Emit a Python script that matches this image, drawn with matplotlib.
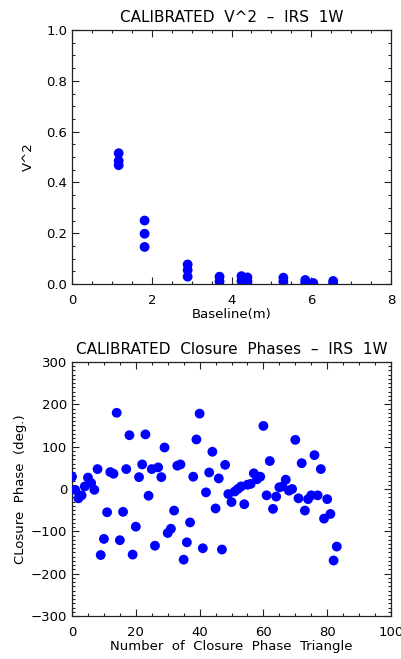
import numpy as np
import matplotlib
matplotlib.use("Agg")
import matplotlib.pyplot as plt
from matplotlib.ticker import MultipleLocator

# squared visibilities vs baseline
baseline = [1.17, 1.17, 1.17, 1.82, 1.82, 1.82, 2.90, 2.90, 2.90,
            3.70, 3.70, 4.25, 4.25, 4.40, 4.40, 5.30, 5.30,
            5.85, 5.85, 6.05, 6.55, 6.55]
v2 = [0.515, 0.485, 0.468, 0.250, 0.198, 0.146, 0.077, 0.055, 0.029,
      0.029, 0.010, 0.031, 0.012, 0.026, 0.010, 0.025, 0.010,
      0.016, 0.005, 0.004, 0.012, 0.004]

# closure phases, one per triangle index 0..83
cphase = [29, -2, -22, -15, 6, 27, 14, -2, 47, -156,
          -118, -55, 40, 36, 180, -121, -54, 47, 127, -155,
          -89, 28, 58, 129, -16, 47, -134, 51, 28, 98,
          -104, -94, -51, 55, 58, -167, -126, -79, 29, 117,
          178, -140, -8, 39, 88, -46, 25, -143, 57, -12,
          -31, -6, 0, 6, -36, 10, 12, 37, 23, 29,
          149, -15, 66, -47, -18, 4, 6, 22, -4, 0,
          116, -22, 61, -51, -24, -15, 80, -15, 47, -70,
          -24, -59, -169, -136]
triangle = np.arange(len(cphase))

plt.rcParams["font.family"] = "DejaVu Sans"
plt.rcParams["font.size"] = 9.5

fig = plt.figure(figsize=(4.01, 6.59), dpi=100)
ax1 = fig.add_axes([0.1796, 0.569, 0.7955, 0.3854])
ax2 = fig.add_axes([0.1796, 0.0653, 0.7955, 0.3854])

ax1.scatter(baseline, v2, s=50, color="#0000ff", edgecolors="none", zorder=3)
ax1.set_xlim(0, 8)
ax1.set_ylim(0, 1)
ax1.xaxis.set_major_locator(MultipleLocator(2))
ax1.xaxis.set_minor_locator(MultipleLocator(0.5))
ax1.yaxis.set_major_locator(MultipleLocator(0.2))
ax1.yaxis.set_minor_locator(MultipleLocator(0.05))
ax1.yaxis.set_major_formatter(plt.FormatStrFormatter("%.1f"))
ax1.set_title("CALIBRATED  V^2  \u2013  IRS  1W", fontsize=11, pad=6)
ax1.set_xlabel("Baseline(m)", labelpad=1)
ax1.set_ylabel("V^2", labelpad=8)

ax2.scatter(triangle, cphase, s=50, color="#0000ff", edgecolors="none", zorder=3)
ax2.set_xlim(0, 100)
ax2.set_ylim(-300, 300)
ax2.xaxis.set_major_locator(MultipleLocator(20))
ax2.xaxis.set_minor_locator(MultipleLocator(5))
ax2.yaxis.set_major_locator(MultipleLocator(100))
ax2.yaxis.set_minor_locator(MultipleLocator(10))
ax2.set_title("CALIBRATED  Closure  Phases  \u2013  IRS  1W", fontsize=11, pad=6)
ax2.set_xlabel("Number  of  Closure  Phase  Triangle", labelpad=1)
ax2.set_ylabel("CLosure  Phase  (deg.)", labelpad=3)

for ax in (ax1, ax2):
    ax.tick_params(which="both", direction="in", top=True, right=True,
                   width=0.8, color="#222222")
    ax.tick_params(which="major", length=5)
    ax.tick_params(which="minor", length=2.5)
    ax.tick_params(axis="x", which="major", pad=7)
    ax.tick_params(axis="y", which="major", pad=3.5)
    for sp in ax.spines.values():
        sp.set_linewidth(0.9)
        sp.set_color("#222222")

fig.savefig("out.png", dpi=100)
